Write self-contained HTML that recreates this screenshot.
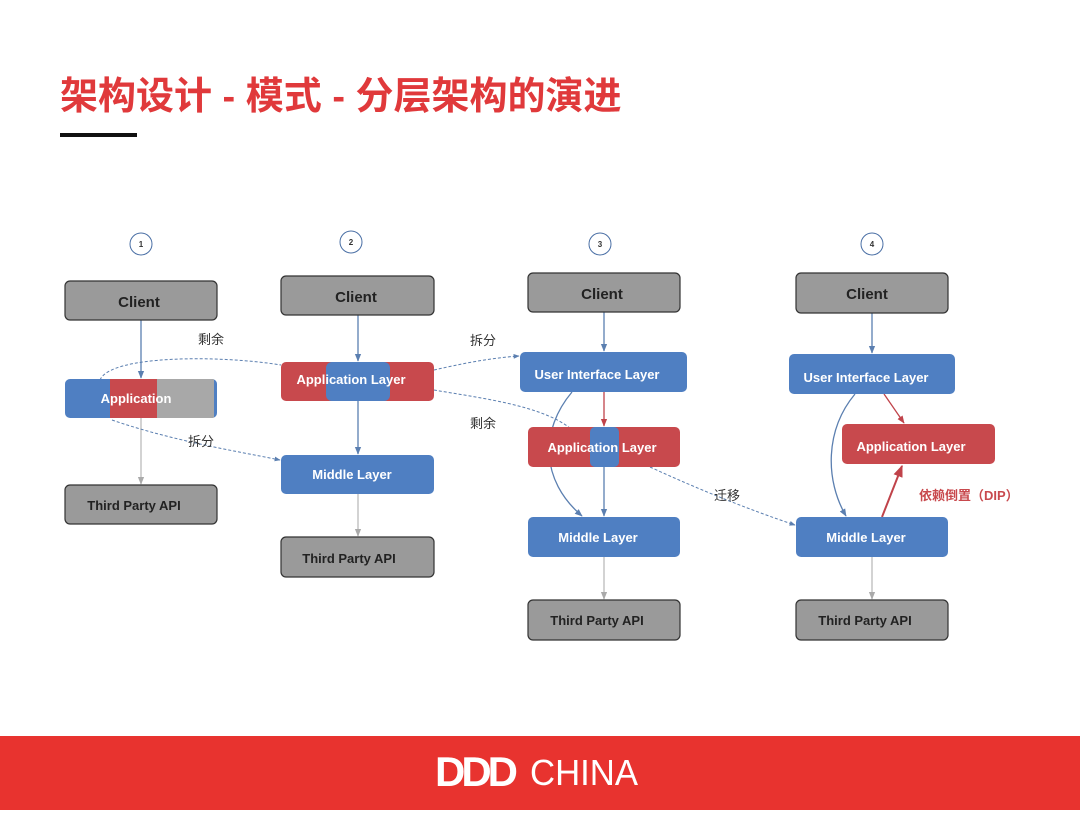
<!DOCTYPE html>
<html><head><meta charset="utf-8"><style>
body{margin:0;width:1080px;height:810px;background:#fff;overflow:hidden;font-family:"Liberation Sans","Noto Sans CJK SC",sans-serif}
</style></head><body>
<svg width="1080" height="810" viewBox="0 0 1080 810" xmlns="http://www.w3.org/2000/svg" font-family="Liberation Sans, Noto Sans CJK SC, sans-serif">
<defs>
<marker id="a" viewBox="0 0 10 10" refX="9" refY="5" markerWidth="6" markerHeight="6" orient="auto"><path d="M0,1 L10,5 L0,9z" fill="#5b7fb0"/></marker>
<marker id="g" viewBox="0 0 10 10" refX="9" refY="5" markerWidth="6" markerHeight="6" orient="auto"><path d="M0,1 L10,5 L0,9z" fill="#aaa"/></marker>
<marker id="r" viewBox="0 0 10 10" refX="9" refY="5" markerWidth="6" markerHeight="6" orient="auto"><path d="M0,1 L10,5 L0,9z" fill="#c0434a"/></marker>
<clipPath id="c1"><rect x="65" y="379" width="152" height="39" rx="5"/></clipPath>
<clipPath id="c2"><rect x="281" y="362" width="153" height="39" rx="5"/></clipPath>
<clipPath id="c3"><rect x="528" y="427" width="152" height="40" rx="5"/></clipPath>
</defs>
<text x="60" y="109" font-size="38" font-weight="bold" fill="#e0393b">架构设计 - 模式 - 分层架构的演进</text>
<rect x="60" y="133" width="77" height="4" fill="#111"/>
<g fill="none" stroke="#4a6fa5" stroke-width="1">
<circle cx="141" cy="244" r="11"/><circle cx="351" cy="242" r="11"/><circle cx="600" cy="244" r="11"/><circle cx="872" cy="244" r="11"/></g>
<g font-size="8" font-weight="bold" text-anchor="middle" fill="#333"><text x="141" y="247">1</text><text x="351" y="245">2</text><text x="600" y="247">3</text><text x="872" y="247">4</text></g>
<g stroke-width="1.3" fill="none">
<line x1="141" y1="320" x2="141" y2="378" stroke="#5b7fb0" marker-end="url(#a)"/>
<line x1="141" y1="418" x2="141" y2="484" stroke="#bbb" marker-end="url(#g)"/>
<line x1="358" y1="315" x2="358" y2="361" stroke="#5b7fb0" marker-end="url(#a)"/>
<line x1="358" y1="401" x2="358" y2="454" stroke="#5b7fb0" marker-end="url(#a)"/>
<line x1="358" y1="494" x2="358" y2="536" stroke="#bbb" marker-end="url(#g)"/>
<line x1="604" y1="312" x2="604" y2="351" stroke="#5b7fb0" marker-end="url(#a)"/>
<line x1="604" y1="392" x2="604" y2="426" stroke="#c0434a" marker-end="url(#r)"/>
<line x1="604" y1="467" x2="604" y2="516" stroke="#5b7fb0" marker-end="url(#a)"/>
<line x1="604" y1="557" x2="604" y2="599" stroke="#bbb" marker-end="url(#g)"/>
<path d="M572,392 C540,430 540,480 582,516" stroke="#5b7fb0" marker-end="url(#a)"/>
<line x1="872" y1="313" x2="872" y2="353" stroke="#5b7fb0" marker-end="url(#a)"/>
<line x1="884" y1="394" x2="904" y2="423" stroke="#c0434a" marker-end="url(#r)"/>
<path d="M855,394 C825,430 825,480 846,516" stroke="#5b7fb0" marker-end="url(#a)"/>
<line x1="882" y1="517" x2="902" y2="466" stroke="#c0434a" stroke-width="2" marker-end="url(#r)"/>
<line x1="872" y1="557" x2="872" y2="599" stroke="#bbb" marker-end="url(#g)"/>
</g>
<g stroke="#5b7fb0" stroke-width="1" stroke-dasharray="3,2" fill="none">
<path d="M100,380 C110,355 220,355 281,365"/>
<path d="M434,370 C460,364 490,358 519,356" marker-end="url(#a)"/>
<path d="M112,420 C170,440 230,450 280,460" marker-end="url(#a)"/>
<path d="M434,390 C480,398 540,405 570,428"/>
<path d="M650,467 C700,490 750,510 795,525" marker-end="url(#a)"/>
</g>
<g stroke="#333" stroke-width="1.2" fill="#9a9a9a">
<rect x="65" y="281" width="152" height="39" rx="5"/>
<rect x="65" y="485" width="152" height="39" rx="5"/>
<rect x="281" y="276" width="153" height="39" rx="5"/>
<rect x="281" y="537" width="153" height="40" rx="5"/>
<rect x="528" y="273" width="152" height="39" rx="5"/>
<rect x="528" y="600" width="152" height="40" rx="5"/>
<rect x="796" y="273" width="152" height="40" rx="5"/>
<rect x="796" y="600" width="152" height="40" rx="5"/>
</g>
<g clip-path="url(#c1)"><rect x="65" y="379" width="152" height="39" fill="#4f7fc2"/><rect x="110" y="379" width="47" height="39" fill="#c8494d"/><rect x="157" y="379" width="57" height="39" fill="#a8a8a8"/></g>
<g clip-path="url(#c2)"><rect x="281" y="362" width="153" height="39" fill="#c8494d"/><rect x="326" y="362" width="64" height="39" rx="6" fill="#4f7fc2"/></g>
<g clip-path="url(#c3)"><rect x="528" y="427" width="152" height="40" fill="#c8494d"/><rect x="590" y="427" width="29" height="40" rx="5" fill="#4f7fc2"/></g>
<g fill="#4f7fc2">
<rect x="281" y="455" width="153" height="39" rx="5"/>
<rect x="520" y="352" width="167" height="40" rx="5"/>
<rect x="528" y="517" width="152" height="40" rx="5"/>
<rect x="789" y="354" width="166" height="40" rx="5"/>
<rect x="796" y="517" width="152" height="40" rx="5"/>
</g>
<rect x="842" y="424" width="153" height="40" rx="5" fill="#c8494d"/>
<g font-size="14" font-weight="bold" text-anchor="middle" fill="#222">
<text x="139" y="307" font-size="15">Client</text><text x="356" y="302" font-size="15">Client</text><text x="602" y="299" font-size="15">Client</text><text x="867" y="299" font-size="15">Client</text>
<text x="134" y="510" font-size="13">Third Party API</text><text x="349" y="563" font-size="13">Third Party API</text>
<text x="597" y="625" font-size="13">Third Party API</text><text x="865" y="625" font-size="13">Third Party API</text>
</g>
<g font-size="13" font-weight="bold" text-anchor="middle" fill="#fff">
<text x="136" y="403">Application</text><text x="351" y="384">Application Layer</text>
<text x="352" y="479">Middle Layer</text><text x="597" y="379">User Interface Layer</text>
<text x="602" y="452">Application Layer</text><text x="598" y="542">Middle Layer</text>
<text x="866" y="382">User Interface Layer</text><text x="911" y="451">Application Layer</text>
<text x="866" y="542">Middle Layer</text>
</g>
<g font-size="13" fill="#333">
<text x="198" y="344">剩余</text><text x="188" y="446">拆分</text><text x="470" y="345">拆分</text>
<text x="470" y="428">剩余</text><text x="714" y="500">迁移</text>
</g>
<text x="919" y="500" font-size="13" font-weight="bold" fill="#c8494d">依赖倒置（DIP）</text>
<rect x="0" y="736" width="1080" height="74" fill="#e8332f"/>
<text x="435" y="786" font-size="42" font-weight="bold" fill="#fff" letter-spacing="-4">DDD</text>
<text x="530" y="785" font-size="36" fill="#fff" textLength="108" lengthAdjust="spacingAndGlyphs">CHINA</text>
</svg>
</body></html>
